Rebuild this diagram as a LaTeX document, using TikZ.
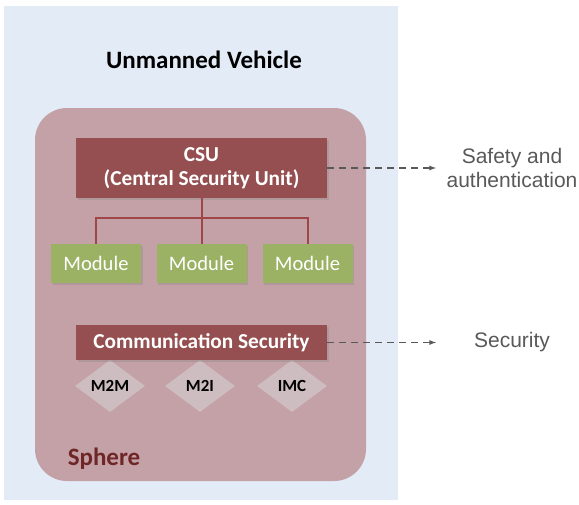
\documentclass[tikz,border=0pt]{standalone}
\usepackage{fontspec}
\setmainfont{Carlito}
\newfontfamily\arialfont{Liberation Sans}
\usetikzlibrary{shapes.geometric,shadows}

\definecolor{vehbg}{RGB}{227,235,247}
\definecolor{spherebg}{RGB}{196,161,166}
\definecolor{redbox}{RGB}{149,79,80}
\definecolor{greenbox}{RGB}{155,177,100}
\definecolor{linkred}{RGB}{160,70,72}
\definecolor{diamondbg}{RGB}{205,189,192}
\definecolor{sidegray}{RGB}{89,89,89}
\definecolor{spheretext}{RGB}{110,38,39}

\tikzset{
  redunit/.style={fill=redbox, text=white, font=\bfseries\fontsize{21.3}{24}\selectfont, align=center,
    minimum width=251pt, inner sep=0pt,
    drop shadow={shadow xshift=1.5pt, shadow yshift=-1.5pt, opacity=.3}},
  modbox/.style={fill=greenbox, text=white, font=\fontsize{20.6}{23}\selectfont,
    minimum width=90pt, minimum height=39pt, inner sep=0pt,
    drop shadow={shadow xshift=1.5pt, shadow yshift=-1.5pt, opacity=.3}},
  proto/.style={diamond, fill=diamondbg, aspect=1.35, minimum width=70pt, minimum height=52pt,
    inner sep=0pt, font=\bfseries\fontsize{17}{19}\selectfont},
  link/.style={linkred, line width=2pt},
  dasharrow/.style={sidegray, line width=1.3pt, dash pattern=on 7pt off 5pt, -latex},
  sidetext/.style={text=sidegray, font=\arialfont\fontsize{21}{24}\selectfont, align=center}
}

\begin{document}
\begin{tikzpicture}[x=1pt,y=-1pt]
  \useasboundingbox (0,0) rectangle (579,504);
  % vehicle and sphere
  \fill[vehbg] (4,6) rectangle (398,500);
  \node[font=\bfseries\fontsize{25}{28}\selectfont] (title) at (204,60) {Unmanned Vehicle};
  \fill[spherebg, rounded corners=32pt] (35,108) rectangle (366,481);
  \node[text=spheretext, font=\bfseries\fontsize{25}{28}\selectfont] (sphere) at (104,459) {Sphere};

  % CSU and modules
  \node[redunit, minimum height=60pt] (csu) at (201.5,168) {CSU\\(Central Security Unit)};
  \foreach \x/\n in {96/1,201.5/2,307.5/3}
    \node[modbox] (m\n) at (\x,263.5) {Module};
  \draw[link] (csu.south) -- (m2.north);
  \draw[link] (m1.north) -- ++(0,-26) -| (m3.north);

  % communication
  \foreach \x/\n/\t in {110/d1/M2M,200/d2/M2I,292/d3/IMC}
    \node[proto] (\n) at (\x,386) {\t};
  \node[redunit, minimum height=35pt] (comm) at (201.5,342.5) {Communication Security};

  % outside
  \coordinate (a1) at (436,168);
  \coordinate (a2) at (436,342.5);
  \draw[dasharrow] (csu.east) -- (a1);
  \draw[dasharrow] (comm.east) -- (a2);
  \node[sidetext] (safety) at (512,168) {Safety and\\authentication};
  \node[sidetext] (sec) at (512,342.5) {Security};
\end{tikzpicture}
\end{document}
